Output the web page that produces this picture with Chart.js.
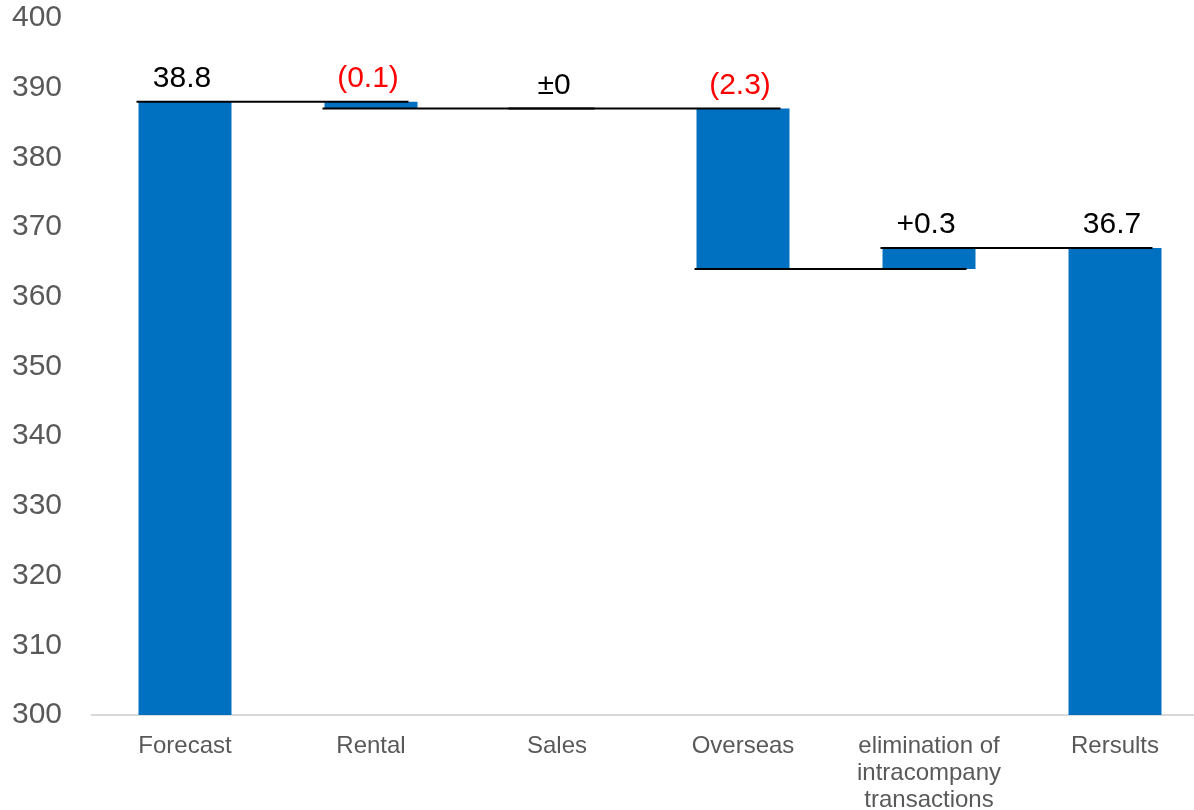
<!DOCTYPE html>
<html>
<head>
<meta charset="utf-8">
<script src="https://cdn.jsdelivr.net/npm/chart.js@4"></script>
<style>
    html, body { margin: 0; padding: 0; background: #fff; overflow: hidden; }
    #wrap { width: 1208px; height: 810px; }
</style>
</head>
<body>
<div id="wrap"><canvas id="waterfallChart" width="1208" height="810"></canvas></div>
<script>
const categories = ['Forecast', 'Rental', 'Sales', 'Overseas', ['elimination of', 'intracompany', 'transactions'], 'Rersults'];
const barStart = [300, 388, 387, 387, 364, 300];
const barEnd = [388, 387, 387, 364, 367, 367];
const valueLabels = ['38.8', '(0.1)', '±0', '(2.3)', '+0.3', '36.7'];
const yTicks = [300, 310, 320, 330, 340, 350, 360, 370, 380, 390, 400];

const fontFamily = "'Liberation Sans', Arial, sans-serif";

// connector lines + value labels, positioned through the scales
const waterfallExtras = {
    id: 'waterfallExtras',
    afterDatasetsDraw(chart) {
        const ctx = chart.ctx;
        const y = chart.scales.y;
        const bars = chart.getDatasetMeta(0).data;

        ctx.save();
        ctx.strokeStyle = '#000';
        ctx.lineWidth = 2;
        for (let i = 0; i < bars.length - 1; i++) {
            const level = y.getPixelForValue(barEnd[i]);
            const left = bars[i].x - bars[i].width / 2 - 2;
            const right = bars[i + 1].x + bars[i + 1].width / 2 - 9;
            ctx.beginPath();
            ctx.moveTo(left, level);
            ctx.lineTo(right, level);
            ctx.stroke();
        }

        ctx.font = '30px ' + fontFamily;
        ctx.textAlign = 'center';
        ctx.textBaseline = 'alphabetic';
        bars.forEach((bar, i) => {
            const top = y.getPixelForValue(Math.max(barStart[i], barEnd[i]));
            ctx.fillStyle = valueLabels[i].startsWith('(') ? '#ff0000' : '#000';
            ctx.fillText(valueLabels[i], bar.x - 3, top - 15);
        });
        ctx.restore();
    }
};

new Chart(document.getElementById('waterfallChart'), {
    type: 'bar',
    data: {
        labels: categories,
        datasets: [{
            data: barStart.map((s, i) => [s, barEnd[i]]),
            backgroundColor: '#0070c0',
            borderWidth: 0,
            categoryPercentage: 1,
            barPercentage: 0.5
        }]
    },
    options: {
        responsive: false,
        animation: false,
        layout: { padding: 0 },
        plugins: {
            legend: { display: false },
            tooltip: { enabled: false }
        },
        scales: {
            x: {
                grid: { display: false },
                border: { display: true, color: '#d9d9d9', width: 2 },
                ticks: {
                    color: '#595959',
                    font: { size: 24, family: fontFamily, lineHeight: 1.12 },
                    padding: 10,
                    maxRotation: 0,
                    autoSkip: false
                },
                afterFit: scale => { scale.height = 95; }
            },
            y: {
                min: 300,
                max: 400,
                grid: { display: false },
                border: { display: false },
                afterBuildTicks: scale => { scale.ticks = yTicks.map(v => ({ value: v })); },
                ticks: {
                    color: '#595959',
                    font: { size: 30, family: fontFamily },
                    padding: 22
                },
                afterFit: scale => {
                    scale.width = 92;
                    scale.paddingTop = 18;
                }
            }
        }
    },
    plugins: [waterfallExtras]
});
</script>
</body>
</html>
